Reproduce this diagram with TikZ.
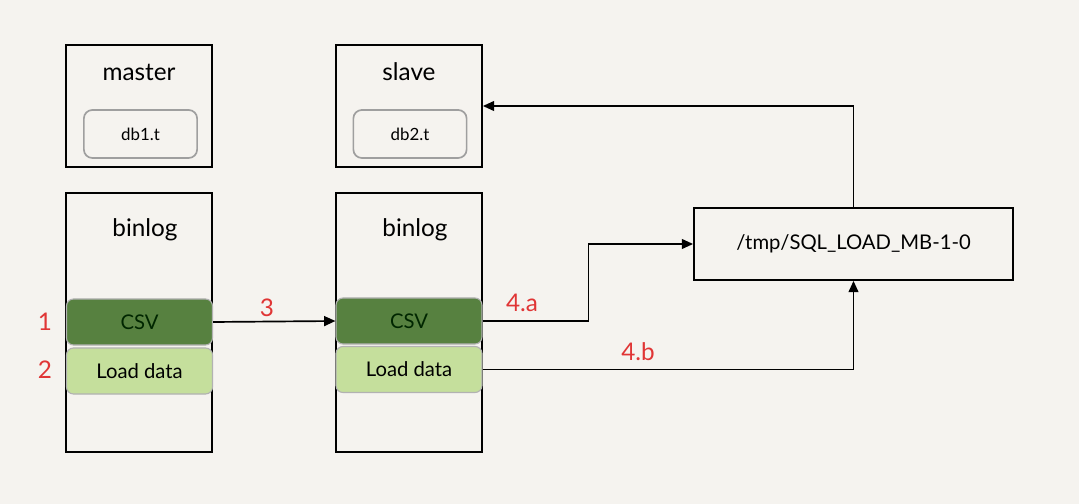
\documentclass[tikz,border=0pt]{standalone}
\usepackage{fontspec}
\setmainfont{Lato}
\usetikzlibrary{arrows.meta}
\definecolor{bgc}{HTML}{F5F3EF}
\definecolor{dkg}{HTML}{578140}
\definecolor{ltg}{HTML}{C5DF9C}
\definecolor{rdc}{HTML}{E03535}
\tikzset{
    BX/.style ={rectangle,minimum width = 3.65cm, draw, line width=1.3pt},
    DB/.style ={rectangle,rounded corners=6pt,minimum width = 2.83cm, minimum height = 1.2cm, draw=gray!75, line width=1.2pt, font=\large},
    CS/.style ={rectangle,rounded corners=5pt,minimum width = 3.65cm, minimum height = 1.15cm, draw=gray!60, line width=0.8pt, fill=dkg, text=black!85!green, font=\Large},
    LD/.style ={rectangle,rounded corners=5pt,minimum width = 3.65cm, minimum height = 1.15cm, draw=gray!60, line width=0.8pt, fill=ltg, font=\Large},
    TT/.style ={font=\LARGE},
    NR/.style ={text=rdc, font=\LARGE},
    AR/.style ={line width=1.2pt, -{Triangle[length=8pt,width=7pt]}}}
\begin{document}
\begin{tikzpicture}[x=0.025cm,y=-0.025cm]
        \fill[bgc] (0,0) rectangle (1079,504);
        % upper boxes
        \node[BX,minimum height=3.05cm] (master) at (139,106){};
        \node[BX,minimum height=3.05cm] (slave) at (409,106){};
        \node[TT] (mt) at (139,72){master};
        \node[TT] (st) at (409,72){slave};
        \node[DB] (db1) at (140.5,134){db1.t};
        \node[DB] (db2) at (410,134){db2.t};
        % binlogs
        \node[BX,minimum height=6.475cm] (bin1) at (139,322.5){};
        \node[BX,minimum height=6.475cm] (bin2) at (409,322.5){};
        \node[TT] (bt1) at (145,230){binlog};
        \node[TT] (bt2) at (415,230){binlog};
        \node[CS] (csv1) at (139.5,322){CSV};
        \node[LD] (ld1) at (139.5,371){Load data};
        \node[CS] (csv2) at (409,321){CSV};
        \node[LD] (ld2) at (409,369.5){Load data};
        \node[NR] (n1) at (45,322){1};
        \node[NR] (n2) at (45,370){2};
        % tmp file
        \node[BX,minimum width=7.975cm,minimum height=1.8cm,font=\Large] (tmp) at (853.5,244){/tmp/SQL\_LOAD\_MB-1-0};
        % arrows
        \draw[AR] (csv1.east) -- (csv2.west);
        \node[NR] (n3) at (267,308){3};
        \draw[AR] (csv2.east) -- ++(106,0) |- (tmp.west);
        \node[NR] (n4a) at (522,303){4.a};
        \draw[AR] (ld2.east) -| (tmp.south);
        \node[NR] (n4b) at (638,352){4.b};
        \draw[AR] (tmp.north) |- (slave.east);
    \end{tikzpicture}
\end{document}
